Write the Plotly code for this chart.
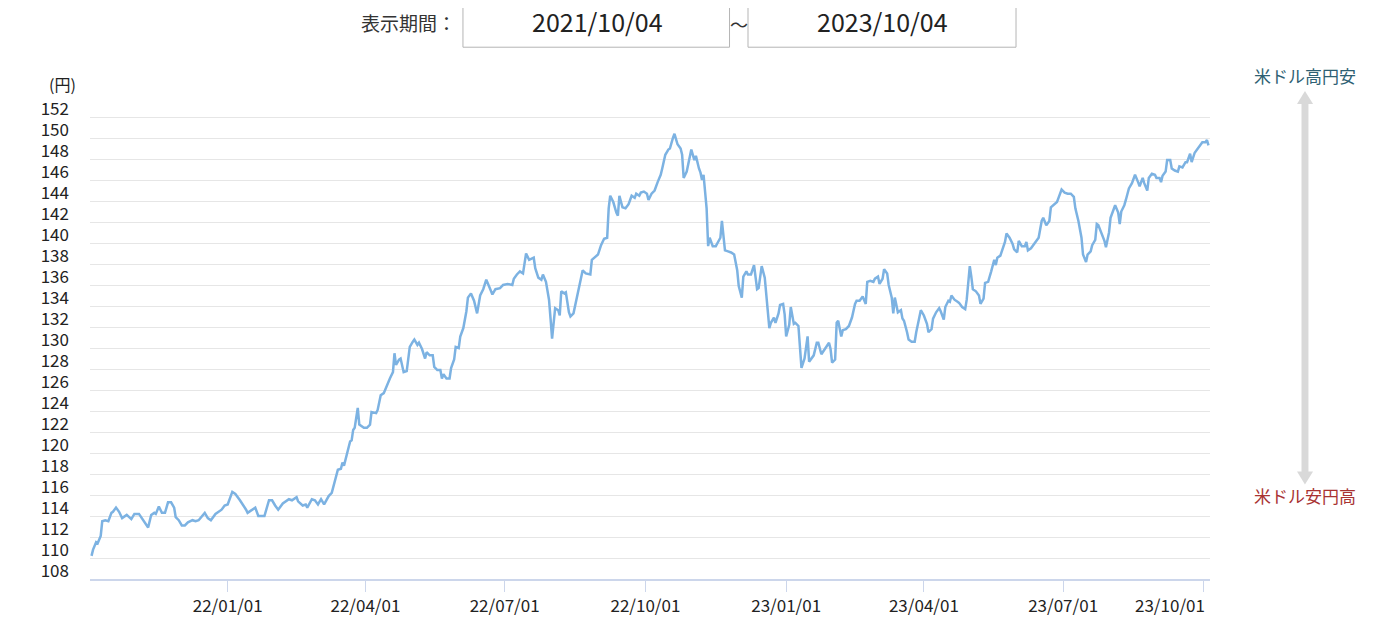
import plotly.graph_objects as go

# USD/JPY rate
dates = [
    "2021-10-04", "2021-10-05", "2021-10-07", "2021-10-08", "2021-10-10", "2021-10-11", "2021-10-13", "2021-10-15",
    "2021-10-17", "2021-10-18", "2021-10-20", "2021-10-22", "2021-10-24", "2021-10-27", "2021-10-30",
    "2021-11-01", "2021-11-04", "2021-11-06", "2021-11-08", "2021-11-10", "2021-11-12", "2021-11-14", "2021-11-15",
    "2021-11-17", "2021-11-19", "2021-11-21", "2021-11-23", "2021-11-25", "2021-11-27", "2021-11-28", "2021-11-30",
    "2021-12-02", "2021-12-04", "2021-12-06", "2021-12-09", "2021-12-11", "2021-12-13", "2021-12-15", "2021-12-17",
    "2021-12-19", "2021-12-21", "2021-12-24", "2021-12-26", "2021-12-28", "2021-12-30",
    "2022-01-01", "2022-01-04", "2022-01-06", "2022-01-09", "2022-01-10", "2022-01-13", "2022-01-14", "2022-01-17",
    "2022-01-19", "2022-01-21", "2022-01-23", "2022-01-25", "2022-01-28", "2022-01-30",
    "2022-02-01", "2022-02-03", "2022-02-06", "2022-02-08", "2022-02-10", "2022-02-12", "2022-02-15", "2022-02-16",
    "2022-02-19", "2022-02-21", "2022-02-22", "2022-02-25", "2022-02-27",
    "2022-03-01", "2022-03-03", "2022-03-05", "2022-03-08", "2022-03-10", "2022-03-12", "2022-03-14", "2022-03-16",
    "2022-03-17", "2022-03-18", "2022-03-20", "2022-03-22", "2022-03-23", "2022-03-24", "2022-03-25", "2022-03-27",
    "2022-03-28", "2022-03-31",
    "2022-04-02", "2022-04-04", "2022-04-05", "2022-04-08", "2022-04-09", "2022-04-11", "2022-04-13", "2022-04-15",
    "2022-04-17", "2022-04-19", "2022-04-20", "2022-04-21", "2022-04-23", "2022-04-24", "2022-04-26", "2022-04-28",
    "2022-04-30",
    "2022-05-02", "2022-05-03", "2022-05-05", "2022-05-06", "2022-05-08", "2022-05-10", "2022-05-11", "2022-05-13",
    "2022-05-15", "2022-05-16", "2022-05-18", "2022-05-20", "2022-05-21", "2022-05-22", "2022-05-24", "2022-05-26",
    "2022-05-27", "2022-05-29", "2022-05-30",
    "2022-06-01", "2022-06-02", "2022-06-04", "2022-06-06", "2022-06-07", "2022-06-09", "2022-06-11", "2022-06-13",
    "2022-06-15", "2022-06-17", "2022-06-19", "2022-06-21", "2022-06-23", "2022-06-25", "2022-06-28", "2022-06-30",
    "2022-07-03", "2022-07-06", "2022-07-07", "2022-07-09", "2022-07-11", "2022-07-13", "2022-07-15", "2022-07-17",
    "2022-07-20", "2022-07-21", "2022-07-23", "2022-07-25", "2022-07-26", "2022-07-28", "2022-07-30", "2022-07-31",
    "2022-08-01", "2022-08-03", "2022-08-05", "2022-08-06", "2022-08-07", "2022-08-09", "2022-08-10", "2022-08-12",
    "2022-08-13", "2022-08-15", "2022-08-17", "2022-08-19", "2022-08-21", "2022-08-23", "2022-08-26", "2022-08-27",
    "2022-08-30", "2022-08-31",
    "2022-09-02", "2022-09-04", "2022-09-06", "2022-09-07", "2022-09-08", "2022-09-10", "2022-09-12", "2022-09-13",
    "2022-09-14", "2022-09-16", "2022-09-18", "2022-09-20", "2022-09-22", "2022-09-24", "2022-09-25", "2022-09-27",
    "2022-09-28", "2022-09-30",
    "2022-10-02", "2022-10-03", "2022-10-05", "2022-10-07", "2022-10-09", "2022-10-11", "2022-10-12", "2022-10-14",
    "2022-10-16", "2022-10-17", "2022-10-19", "2022-10-20", "2022-10-22", "2022-10-24", "2022-10-25", "2022-10-26",
    "2022-10-28", "2022-10-30", "2022-10-31",
    "2022-11-02", "2022-11-03", "2022-11-05", "2022-11-06", "2022-11-07", "2022-11-08", "2022-11-10", "2022-11-11",
    "2022-11-12", "2022-11-14", "2022-11-16", "2022-11-18", "2022-11-19", "2022-11-20", "2022-11-22", "2022-11-24",
    "2022-11-26", "2022-11-28", "2022-11-30",
    "2022-12-01", "2022-12-03", "2022-12-04", "2022-12-06", "2022-12-07", "2022-12-09", "2022-12-11", "2022-12-13",
    "2022-12-14", "2022-12-16", "2022-12-18", "2022-12-19", "2022-12-21", "2022-12-22", "2022-12-24", "2022-12-25",
    "2022-12-27", "2022-12-28", "2022-12-30", "2022-12-31",
    "2023-01-01", "2023-01-03", "2023-01-04", "2023-01-06", "2023-01-07", "2023-01-09", "2023-01-10", "2023-01-11",
    "2023-01-13", "2023-01-15", "2023-01-16", "2023-01-17", "2023-01-19", "2023-01-21", "2023-01-22", "2023-01-24",
    "2023-01-26", "2023-01-27", "2023-01-29", "2023-01-30", "2023-01-31",
    "2023-02-02", "2023-02-03", "2023-02-04", "2023-02-06", "2023-02-07", "2023-02-09", "2023-02-11", "2023-02-13",
    "2023-02-15", "2023-02-16", "2023-02-18", "2023-02-20", "2023-02-22", "2023-02-23", "2023-02-25", "2023-02-27",
    "2023-02-28",
    "2023-03-02", "2023-03-03", "2023-03-05", "2023-03-06", "2023-03-08", "2023-03-09", "2023-03-11", "2023-03-12",
    "2023-03-13", "2023-03-15", "2023-03-17", "2023-03-18", "2023-03-19", "2023-03-21", "2023-03-22", "2023-03-24",
    "2023-03-26", "2023-03-27", "2023-03-29", "2023-03-30",
    "2023-04-01", "2023-04-03", "2023-04-04", "2023-04-06", "2023-04-07", "2023-04-09", "2023-04-11", "2023-04-12",
    "2023-04-14", "2023-04-15", "2023-04-17", "2023-04-18", "2023-04-19", "2023-04-21", "2023-04-23", "2023-04-24",
    "2023-04-26", "2023-04-28", "2023-04-29", "2023-04-30",
    "2023-05-01", "2023-05-02", "2023-05-03", "2023-05-05", "2023-05-07", "2023-05-08", "2023-05-10", "2023-05-11",
    "2023-05-13", "2023-05-15", "2023-05-17", "2023-05-18", "2023-05-19", "2023-05-21", "2023-05-23", "2023-05-24",
    "2023-05-25", "2023-05-27", "2023-05-29", "2023-05-30",
    "2023-06-01", "2023-06-02", "2023-06-04", "2023-06-06", "2023-06-07", "2023-06-08", "2023-06-10", "2023-06-12",
    "2023-06-14", "2023-06-15", "2023-06-17", "2023-06-18", "2023-06-20", "2023-06-22", "2023-06-23", "2023-06-25",
    "2023-06-27", "2023-06-28", "2023-06-29", "2023-06-30",
    "2023-07-02", "2023-07-04", "2023-07-06", "2023-07-08", "2023-07-09", "2023-07-11", "2023-07-13", "2023-07-14",
    "2023-07-16", "2023-07-17", "2023-07-19", "2023-07-20", "2023-07-22", "2023-07-23", "2023-07-24", "2023-07-26",
    "2023-07-28", "2023-07-29", "2023-07-31",
    "2023-08-01", "2023-08-03", "2023-08-04", "2023-08-06", "2023-08-07", "2023-08-08", "2023-08-10", "2023-08-11",
    "2023-08-13", "2023-08-15", "2023-08-16", "2023-08-17", "2023-08-19", "2023-08-20", "2023-08-22", "2023-08-23",
    "2023-08-25", "2023-08-26", "2023-08-28", "2023-08-30", "2023-08-31",
    "2023-09-02", "2023-09-03", "2023-09-04", "2023-09-06", "2023-09-07", "2023-09-09", "2023-09-10", "2023-09-12",
    "2023-09-14", "2023-09-15", "2023-09-17", "2023-09-19", "2023-09-20", "2023-09-22", "2023-09-23", "2023-09-25",
    "2023-09-27", "2023-09-28", "2023-09-30",
    "2023-10-02", "2023-10-03", "2023-10-04",
]

usd_jpy = [
    110.2, 110.8, 111.5, 111.4, 112.1, 113.5, 113.6, 113.5,
    114.3, 114.4, 114.8, 114.4, 113.8, 114.1, 113.7,
    114.2, 114.2, 113.8, 113.3, 112.9, 114.1, 114.3, 114.2,
    114.9, 114.3, 114.3, 115.3, 115.3, 114.8, 113.9, 113.6,
    113.1, 113.1, 113.4, 113.6, 113.5, 113.6, 113.9, 114.3,
    113.8, 113.6, 114.2, 114.4, 114.6, 115.0,
    115.1, 116.3, 116.1, 115.5, 115.3, 114.6, 114.3, 114.6,
    114.8, 114.0, 114.0, 114.0, 115.5, 115.5,
    115.0, 114.6, 115.2, 115.4, 115.6, 115.5, 115.8, 115.4,
    115.0, 115.1, 114.8, 115.6, 115.5,
    115.1, 115.6, 115.1, 115.9, 116.2, 117.4, 118.4, 118.5,
    119.1, 118.8, 120.0, 121.1, 121.2, 122.2, 122.4, 124.3,
    122.7, 122.4,
    122.4, 122.7, 123.9, 123.8, 124.1, 125.5, 125.7, 126.5,
    127.1, 127.7, 129.5, 128.4, 128.9, 129.0, 127.7, 127.8,
    130.1,
    130.6, 130.8, 130.3, 130.5, 129.9, 129.0, 129.6, 129.3,
    129.3, 128.2, 127.9, 127.9, 127.1, 127.5, 127.1, 127.1,
    128.1, 128.9, 130.1,
    130.0, 131.1, 131.9, 133.5, 134.8, 135.2, 134.5, 133.3,
    135.0, 135.6, 136.5, 135.8, 135.1, 135.6, 135.7, 136.0,
    136.1, 136.0, 136.6, 137.0, 137.3, 137.1, 139.0, 138.4,
    138.6, 137.6, 136.7, 136.5, 137.0, 136.3, 134.6, 132.8,
    130.9, 133.8, 133.6, 133.1, 135.4, 135.2, 135.3, 133.4,
    133.0, 133.3, 134.7, 136.0, 137.4, 137.1, 137.0, 138.4,
    138.8, 138.9,
    139.8, 140.4, 140.5, 143.3, 144.5, 143.9, 142.9, 142.6,
    144.5, 143.4, 143.3, 143.7, 144.5, 144.3, 144.7, 144.5,
    144.8, 144.9,
    144.7, 144.1, 144.7, 145.0, 145.8, 146.5, 147.1, 148.4,
    148.9, 149.0, 150.0, 150.4, 149.4, 149.0, 148.4, 146.2,
    146.8, 148.4, 148.9,
    147.9, 148.3, 147.1, 146.7, 146.0, 146.5, 143.3, 139.7,
    140.5, 139.7, 139.7, 140.3, 140.5, 142.1, 139.3, 139.2,
    139.1, 138.9, 137.4,
    135.9, 134.8, 136.8, 137.3, 137.0, 137.0, 137.9, 135.6,
    135.7, 137.8, 136.7, 134.8, 131.9, 132.4, 132.9, 132.4,
    133.3, 134.1, 134.2, 133.2,
    131.1, 132.2, 133.9, 132.3, 132.4, 132.1, 130.0, 128.1,
    129.0, 131.1, 128.7, 128.9, 129.3, 130.5, 130.5, 129.4,
    129.8, 130.1, 130.5, 129.9, 128.6,
    128.9, 132.4, 132.6, 131.1, 131.7, 131.8, 132.1, 132.9,
    134.2, 134.5, 134.5, 134.9, 134.2, 136.3, 136.4, 136.3,
    136.6,
    136.8, 136.1, 136.6, 137.5, 137.1, 136.0, 134.8, 133.3,
    134.8, 133.4, 133.6, 132.8, 132.6, 131.5, 130.8, 130.6,
    130.6, 131.5, 132.8, 133.6,
    133.1, 132.3, 131.5, 131.8, 132.8, 133.4, 133.8, 133.5,
    132.7, 133.9, 134.5, 134.4, 135.0, 134.6, 134.4, 134.3,
    133.9, 133.7, 134.6, 136.0,
    137.8, 136.8, 135.6, 135.4, 135.0, 134.2, 134.7, 136.2,
    136.3, 137.3, 138.4, 137.9, 138.6, 138.8, 139.7, 140.1,
    140.9, 140.5, 139.9, 139.4,
    139.1, 140.2, 139.7, 139.7, 140.1, 139.3, 139.5, 139.9,
    140.2, 140.5, 142.1, 142.4, 141.7, 142.1, 143.4, 143.7,
    143.9, 144.3, 144.7, 145.1,
    144.8, 144.7, 144.7, 144.4, 143.3, 142.1, 140.5, 138.9,
    138.2, 138.9, 139.2, 139.8, 140.3, 141.8, 141.7, 141.0,
    140.2, 139.6, 141.0,
    142.4, 143.3, 143.6, 142.9, 141.8, 143.0, 143.6, 144.1,
    145.2, 145.7, 146.2, 146.5, 145.8, 145.4, 146.2, 145.7,
    145.0, 146.2, 146.6, 146.5, 146.2,
    146.2, 145.8, 146.4, 146.8, 147.9, 147.9, 147.1, 146.9,
    146.8, 147.3, 147.2, 147.7, 147.7, 148.5, 147.7, 148.6,
    149.0, 149.2, 149.6,
    149.6, 149.8, 149.3,
]

x_tick_dates = ["2022-01-01", "2022-04-01", "2022-07-01", "2022-10-01",
                "2023-01-01", "2023-04-01", "2023-07-01", "2023-10-01"]
x_tick_labels = ["22/01/01", "22/04/01", "22/07/01", "22/10/01",
                 "23/01/01", "23/04/01", "23/07/01", "23/10/01"]
y_ticks = list(range(108, 156, 2))
y_tick_labels = [str(v) if v <= 152 else "" for v in y_ticks]

period_label = "表示期間："
period_start = "2021/10/04"
period_end = "2023/10/04"
up_label = "米ドル高円安"
down_label = "米ドル安円高"

FONT = "Noto Sans CJK JP"
LINE = "#7cb2e2"
GRID = "#e6e6e6"
AXIS = "#ccd6eb"
TXT = "#222222"

fig = go.Figure()
fig.add_trace(go.Scatter(x=dates, y=usd_jpy, mode="lines",
                         line=dict(color=LINE, width=2.5), hoverinfo="x+y"))

# last tick label is pulled left so it stays inside the chart
shown_labels = x_tick_labels[:-1] + [""]

fig.update_layout(
    width=1384, height=621,
    margin=dict(l=82, r=182, t=88, b=48),
    paper_bgcolor="white", plot_bgcolor="white",
    showlegend=False,
    font=dict(family=FONT, size=15, color="#333333"),
    xaxis=dict(range=["2021-10-03", "2023-10-05"], type="date",
               tickvals=x_tick_dates, ticktext=shown_labels,
               showgrid=False, showline=True, linecolor=AXIS, linewidth=2,
               ticks="outside", ticklen=11, tickcolor=AXIS, tickwidth=1,
               tickfont=dict(size=17, color=TXT)),
    yaxis=dict(range=[108, 154], tickvals=y_ticks, ticktext=y_tick_labels,
               showgrid=True, gridcolor=GRID, gridwidth=1, zeroline=False,
               ticklabelshift=-8, ticklabelstandoff=20,
               tickfont=dict(size=17, color=TXT)),
)

fig.add_annotation(x=x_tick_dates[-1], y=0, xref="x", yref="paper",
                   text=x_tick_labels[-1], showarrow=False,
                   xanchor="right", yanchor="top", xshift=3, yshift=-11,
                   font=dict(size=17, color=TXT))

# unit label
fig.add_annotation(x=-0.025, y=1.025, xref="paper", yref="paper", text="(円)",
                   showarrow=False, xanchor="center", yanchor="middle",
                   font=dict(size=16, color=TXT))

# period selector header (boxes run off the top edge, so no top border)
for x0, x1 in [(0.333, 0.571), (0.5875, 0.8268)]:
    fig.add_shape(type="path", xref="paper", yref="paper",
                  path=f"M {x0} 1.3 L {x0} 1.101 L {x1} 1.101 L {x1} 1.3",
                  line=dict(color="#b5b5b5", width=1), fillcolor="white")
fig.add_annotation(x=0.3286, y=1.153, xref="paper", yref="paper", text=period_label,
                   showarrow=False, xanchor="right", yanchor="middle",
                   font=dict(size=19, color="#333333"))
fig.add_annotation(x=0.4527, y=1.155, xref="paper", yref="paper", text=period_start,
                   showarrow=False, xanchor="center", yanchor="middle",
                   font=dict(size=25, color=TXT))
fig.add_annotation(x=0.708, y=1.155, xref="paper", yref="paper", text=period_end,
                   showarrow=False, xanchor="center", yanchor="middle",
                   font=dict(size=25, color=TXT))
fig.add_annotation(x=0.5795, y=1.15, xref="paper", yref="paper", text="～",
                   showarrow=False, xanchor="center", yanchor="middle",
                   font=dict(size=18, color="#333333"))

# direction arrow on the right
fig.add_shape(type="rect", xref="paper", yref="paper", x0=1.0817, x1=1.0879, y0=0.215, y1=0.99,
              line=dict(width=0), fillcolor="#d9d9d9")
fig.add_shape(type="path", xref="paper", yref="paper",
              path="M 1.0777 0.9835 L 1.0848 1.0103 L 1.0920 0.9835 Z",
              line=dict(width=0), fillcolor="#d9d9d9")
fig.add_shape(type="path", xref="paper", yref="paper",
              path="M 1.0777 0.2227 L 1.0848 0.1959 L 1.0920 0.2227 Z",
              line=dict(width=0), fillcolor="#d9d9d9")
fig.add_annotation(x=1.0848, y=1.0433, xref="paper", yref="paper", text=up_label,
                   showarrow=False, xanchor="center", yanchor="middle",
                   font=dict(size=17, color="#2e5f73"))
fig.add_annotation(x=1.0848, y=0.1732, xref="paper", yref="paper", text=down_label,
                   showarrow=False, xanchor="center", yanchor="middle",
                   font=dict(size=17, color="#a83232"))

fig.write_html("out.html")
